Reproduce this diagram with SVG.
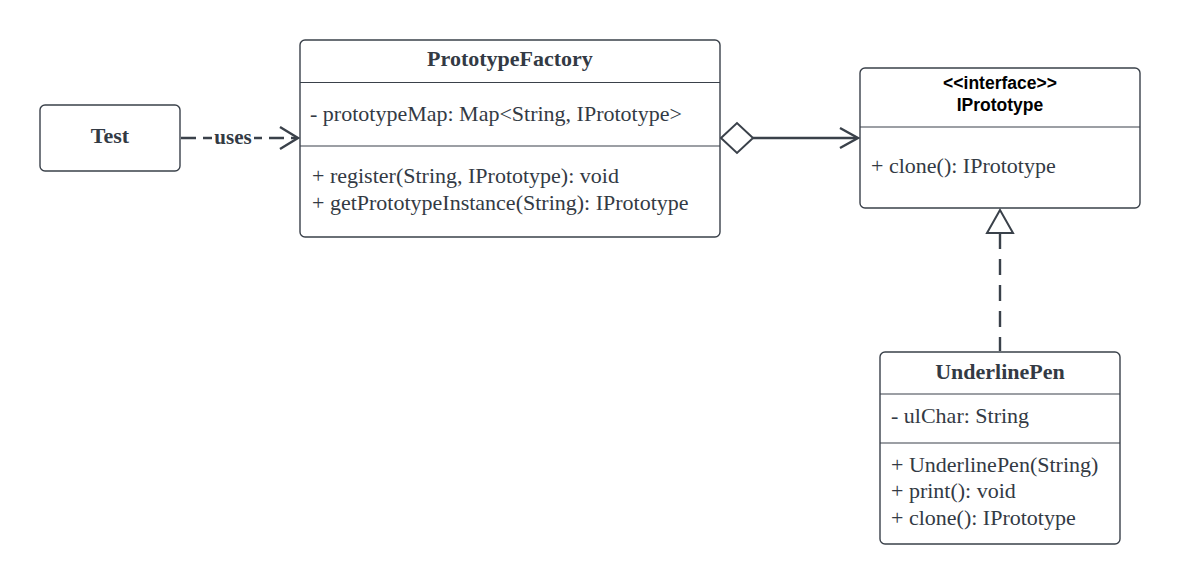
<svg xmlns="http://www.w3.org/2000/svg" width="1180" height="586" viewBox="0 0 1180 586">
<style>
.box{fill:#ffffff;stroke:#3a414a;stroke-width:1.4}
.div{stroke:#3a414a;stroke-width:1.2}
.t{font-family:"Liberation Serif","Times New Roman",serif;font-size:22px;fill:#333a44}
.tb{font-family:"Liberation Serif","Times New Roman",serif;font-size:22px;font-weight:bold;fill:#333a44;text-anchor:middle}
.sb{font-family:"Liberation Sans",Arial,sans-serif;font-size:17.5px;font-weight:bold;fill:#000000;text-anchor:middle}
.ln{fill:none;stroke:#3a414a;stroke-width:2.4}
</style>
<rect width="1180" height="586" fill="#ffffff"/>
<g id="connectors">
  <g id="uses">
    <line class="ln" x1="181" y1="138" x2="296" y2="138" stroke-dasharray="15 7"/>
    <polyline class="ln" points="280,127 298,138 280,149"/>
    <rect x="212" y="126" width="42" height="24" fill="#ffffff"/>
    <text x="233" y="144" class="tb" style="font-size:21px">uses</text>
  </g>
  <g id="aggregation">
    <polygon points="721,138 737,123 753,138 737,153" fill="#ffffff" stroke="#3a414a" stroke-width="2"/>
    <line class="ln" x1="753" y1="138" x2="857" y2="138" stroke-width="2"/>
    <polyline class="ln" points="840,128 858,138 840,148" stroke-width="2"/>
  </g>
  <g id="realization">
    <line class="ln" x1="1000" y1="233" x2="1000" y2="351" stroke-dasharray="16 10"/>
    <polygon points="1000,210 987,233 1013,233" fill="#ffffff" stroke="#3a414a" stroke-width="2"/>
  </g>
</g>
<g id="Test">
  <rect class="box" x="40" y="105" width="140" height="66" rx="5"/>
  <text x="110" y="143" class="tb">Test</text>
</g>
<g id="PrototypeFactory">
  <rect class="box" x="300" y="40" width="420" height="197" rx="5"/>
  <line class="div" x1="300" y1="82.5" x2="720" y2="82.5"/>
  <line class="div" x1="300" y1="146" x2="720" y2="146"/>
  <text x="510" y="66" class="tb">PrototypeFactory</text>
  <text x="310" y="121" class="t">- prototypeMap: Map&lt;String, IPrototype&gt;</text>
  <text x="312" y="183" class="t">+ register(String, IPrototype): void</text>
  <text x="312" y="210" class="t">+ getPrototypeInstance(String): IPrototype</text>
</g>
<g id="IPrototype">
  <rect class="box" x="860" y="68" width="280" height="140" rx="5"/>
  <line class="div" x1="860" y1="127" x2="1140" y2="127"/>
  <text x="1000" y="89" class="sb">&lt;&lt;interface&gt;&gt;</text>
  <text x="1000" y="111" class="sb">IPrototype</text>
  <text x="871" y="173" class="t">+ clone(): IPrototype</text>
</g>
<g id="UnderlinePen">
  <rect class="box" x="880" y="352" width="240" height="192" rx="5"/>
  <line class="div" x1="880" y1="394" x2="1120" y2="394"/>
  <line class="div" x1="880" y1="443" x2="1120" y2="443"/>
  <text x="1000" y="379" class="tb">UnderlinePen</text>
  <text x="891" y="423" class="t">- ulChar: String</text>
  <text x="891" y="472" class="t">+ UnderlinePen(String)</text>
  <text x="891" y="498" class="t">+ print(): void</text>
  <text x="891" y="525" class="t">+ clone(): IPrototype</text>
</g>
</svg>
